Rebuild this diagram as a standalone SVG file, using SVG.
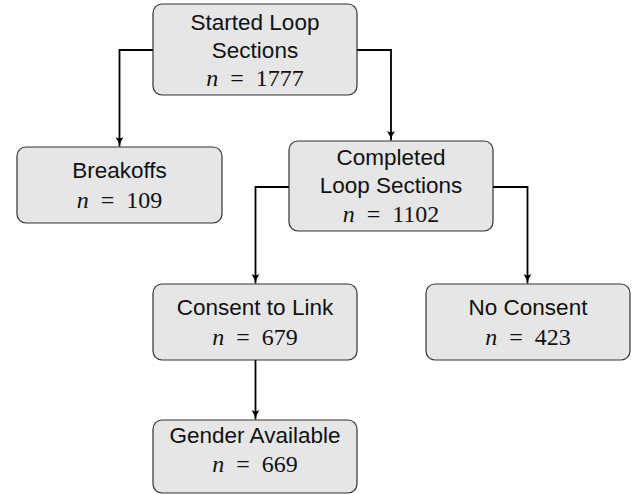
<svg xmlns="http://www.w3.org/2000/svg" width="636" height="494" viewBox="0 0 636 494">
<style>
.box{fill:#e6e6e6;stroke:#333;stroke-width:1.2}
.lbl{font-family:"Liberation Sans",Arial,sans-serif;font-size:22.5px;fill:#111;text-anchor:middle}
.num{font-family:"Liberation Serif","Times New Roman",serif;font-size:24px;fill:#111;text-anchor:middle;white-space:pre}
.num tspan.i{font-style:italic}
.edge{fill:none;stroke:#000;stroke-width:1.8}
</style>
<defs>
<marker id="ah" viewBox="0 0 10 10" refX="9.5" refY="5" markerWidth="10" markerHeight="10" markerUnits="userSpaceOnUse" orient="auto">
<path d="M0,1 Q4.5,4.2 9.5,5 Q4.5,5.8 0,9 Q2.5,5 0,1 Z" fill="#000"/>
</marker>
</defs>
<g id="connectors">
<path class="edge" d="M153,50 H119.5 V146.5" marker-end="url(#ah)"/>
<path class="edge" d="M357,50 H391 V140.5" marker-end="url(#ah)"/>
<path class="edge" d="M289,187 H255.5 V283.5" marker-end="url(#ah)"/>
<path class="edge" d="M493,187 H527.5 V283.5" marker-end="url(#ah)"/>
<path class="edge" d="M255.5,360 V419.5" marker-end="url(#ah)"/>
</g>
<g id="started">
<rect class="box" x="153" y="4" width="204" height="91" rx="9"/>
<text class="lbl" x="255" y="30">Started Loop</text>
<text class="lbl" x="255" y="58">Sections</text>
<text class="num" x="255" y="86" xml:space="preserve"><tspan class="i">n</tspan>  =  1777</text>
</g>
<g id="breakoffs">
<rect class="box" x="17" y="147" width="205" height="76" rx="9"/>
<text class="lbl" x="119.5" y="178">Breakoffs</text>
<text class="num" x="119.5" y="208" xml:space="preserve"><tspan class="i">n</tspan>  =  109</text>
</g>
<g id="completed">
<rect class="box" x="289" y="141" width="204" height="90" rx="9"/>
<text class="lbl" x="391" y="165">Completed</text>
<text class="lbl" x="391" y="193">Loop Sections</text>
<text class="num" x="391" y="221.5" xml:space="preserve"><tspan class="i">n</tspan>  =  1102</text>
</g>
<g id="consent">
<rect class="box" x="153" y="284" width="204" height="76" rx="9"/>
<text class="lbl" x="255" y="315">Consent to Link</text>
<text class="num" x="255" y="345" xml:space="preserve"><tspan class="i">n</tspan>  =  679</text>
</g>
<g id="noconsent">
<rect class="box" x="426" y="284" width="204" height="76" rx="9"/>
<text class="lbl" x="528" y="315">No Consent</text>
<text class="num" x="528" y="345" xml:space="preserve"><tspan class="i">n</tspan>  =  423</text>
</g>
<g id="gender">
<rect class="box" x="153" y="420" width="204" height="73" rx="9"/>
<text class="lbl" x="255" y="442.5">Gender Available</text>
<text class="num" x="255" y="471.5" xml:space="preserve"><tspan class="i">n</tspan>  =  669</text>
</g>
</svg>
